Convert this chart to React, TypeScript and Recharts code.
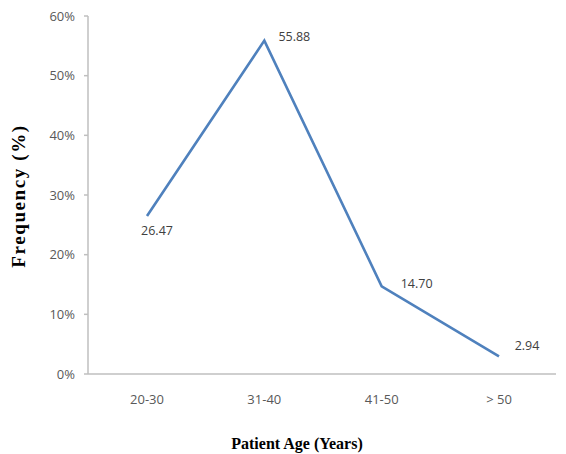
import React from "react";
import { LineChart, Line, XAxis, YAxis, LabelList, Label } from "recharts";

const categories = ["20-30", "31-40", "41-50", "> 50"];
const frequency = [26.47, 55.88, 14.7, 2.94];
const valueLabels = ["26.47", "55.88", "14.70", "2.94"];
const yTicks = [0, 10, 20, 30, 40, 50, 60];

const data = categories.map((c, i) => ({ age: c, freq: frequency[i], lbl: valueLabels[i] }));

const labelOffsets = [
  [10, 14],
  [30, -4],
  [35, -3],
  [28, -11],
];

const renderLabel = (props: any) => {
  const { x, y, index, value } = props;
  const [dx, dy] = labelOffsets[index] || [0, 0];
  return (
    <text
      x={x + dx}
      y={y + dy}
      textAnchor="middle"
      dominantBaseline="central"
      fontFamily="'Open Sans', sans-serif"
      fontSize={12.5}
      fill="#404040"
    >
      {value}
    </text>
  );
};

export default function App() {
  return (
    <div style={{ position: "absolute", left: 0, top: 0, width: 566, height: 454, background: "#fff" }}>
      <LineChart
        width={566}
        height={454}
        data={data}
        margin={{ top: 16, right: 10, left: 0, bottom: 0 }}
      >
        <XAxis
          dataKey="age"
          padding={{ left: 59, right: 57 }}
          axisLine={{ stroke: "#BFBFBF", strokeWidth: 1.5 }}
          tickLine={false}
          tickSize={6}
          tickMargin={15}
          height={80}
          tick={{ fill: "#595959", fontSize: 13, fontFamily: "'Open Sans', sans-serif" }}
        >
          <Label
            content={() => (
              <text
                x={297}
                y={443}
                textAnchor="middle"
                dominantBaseline="central"
                fontFamily="'Liberation Serif', 'Times New Roman', serif"
                fontWeight="bold"
                fontSize={16}
                fill="#000"
              >
                Patient Age (Years)
              </text>
            )}
          />
        </XAxis>
        <YAxis
          width={88}
          domain={[0, 60]}
          ticks={yTicks}
          tickFormatter={(v: number) => `${v}%`}
          axisLine={{ stroke: "#BFBFBF", strokeWidth: 1.5 }}
          tickLine={{ stroke: "#BFBFBF", strokeWidth: 1.5 }}
          tickSize={4}
          tickMargin={9}
          tick={{ fill: "#595959", fontSize: 13, fontFamily: "'Open Sans', sans-serif" }}
        >
          <Label
            content={() => (
              <text
                x={18}
                y={196}
                transform="rotate(-90, 18, 196)"
                textAnchor="middle"
                dominantBaseline="central"
                fontFamily="'Liberation Serif', 'Times New Roman', serif"
                fontWeight="bold"
                fontSize={19}
                letterSpacing={1.6}
                fill="#000"
              >
                Frequency (%)
              </text>
            )}
          />
        </YAxis>
        <Line
          type="linear"
          dataKey="freq"
          stroke="#4F81BD"
          strokeWidth={2.6}
          dot={false}
          activeDot={false}
          isAnimationActive={false}
        >
          <LabelList dataKey="lbl" content={renderLabel} />
        </Line>
      </LineChart>
    </div>
  );
}
